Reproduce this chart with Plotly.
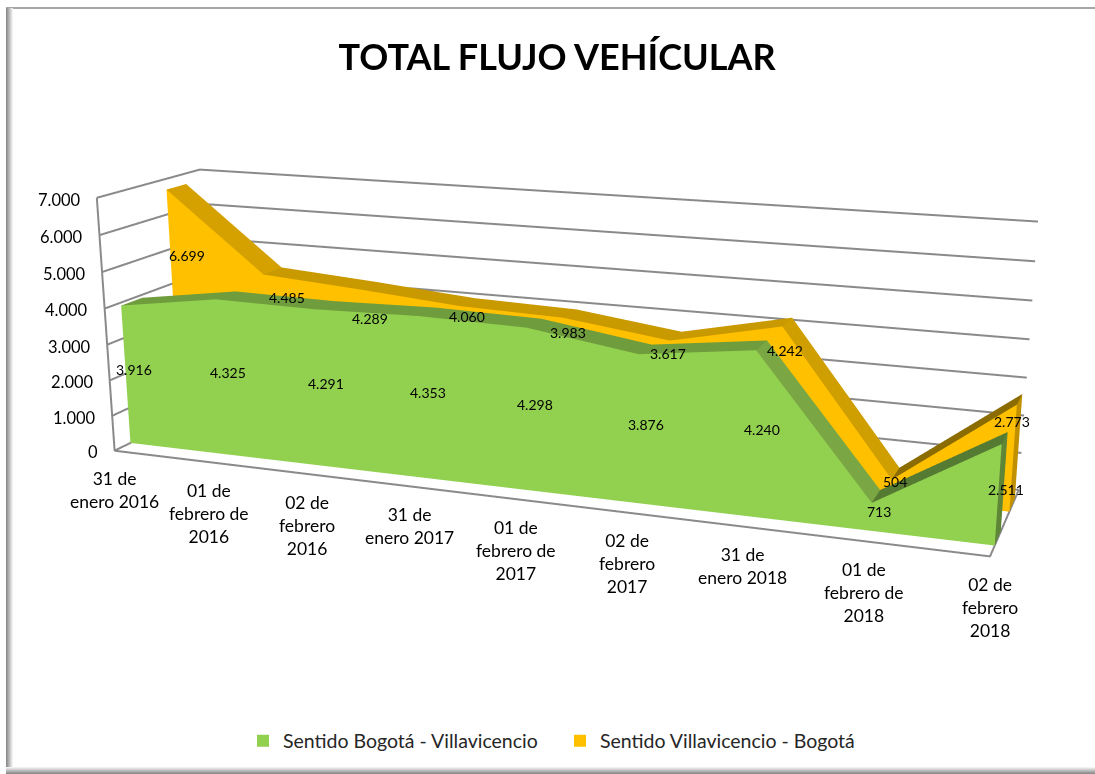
import numpy as np
import plotly.graph_objects as go

CATEGORIES = ["31 de<br>enero 2016", "01 de<br>febrero de<br>2016", "02 de<br>febrero<br>2016",
              "31 de<br>enero 2017", "01 de<br>febrero de<br>2017", "02 de<br>febrero<br>2017",
              "31 de<br>enero 2018", "01 de<br>febrero de<br>2018", "02 de<br>febrero<br>2018"]
BOGOTA_VILLA = [3916, 4325, 4291, 4353, 4298, 3876, 4240, 713, 2511]
VILLA_BOGOTA = [6699, 4485, 4289, 4060, 3983, 3617, 4242, 504, 2773]
Z_TICKS = [0, 1000, 2000, 3000, 4000, 5000, 6000, 7000]

# Where each back-series value label sits: share of the value's height, and sideways nudge in px
ORANGE_LABEL_HEIGHT = [.72, .85, .81, .93, .90, .90, .85, .88, .84]
ORANGE_LABEL_DX = [17, 23, 10, 8, 5, -2, 3, 3, -4]

# View fitted to the reference's oblique 3D projection
ASPECT = np.array([2., 0.2227, 0.6065])
EYE = np.array([0.4098, -1.9003, 0.2065])
CENTER = np.array([0.0446, 0.2698, -0.0787])
SHEAR = np.array([0.0625, 0.1332, -0.2286])
DOMAIN_X, DOMAIN_Y = [.03, 1], [.1, 1]

def U(x, d, z):
    return (float(x/8+SHEAR[0]*d), float(d), float(z/7000+SHEAR[1]*d+SHEAR[2]*x/8))

corners = np.array([U(x, d, z) for x in (0, 8) for d in (0, 1) for z in (0, 7000)])
lo = corners.min(0)-.02
hi = corners.max(0)+.02
mid = (lo+hi)/2
shift = ASPECT*(mid-.5)
asp = ASPECT*(hi-lo)
eye = EYE-shift
cen = CENTER-shift

fig = go.Figure()
GREEN_TOP = ["#6F9C3D"]*6+["#7AA644", "#557A31"]
ORANGE_TOP = ["#D4A100"]+["#C99900"]*5+["#CF9E00", "#8A6C00"]
GRAY = "#8A8A8A"

def add_area(name, vals, d0, d1, front, tops, cap):
    n = len(vals)
    xs, ys, zs, I, J, K, cols = [], [], [], [], [], [], []
    def quad(a, b, c, e, col):
        base = len(xs)
        for q in (a, b, c, e):
            w = U(*q)
            xs.append(w[0]); ys.append(w[1]); zs.append(w[2])
        I.extend([base, base]); J.extend([base+1, base+2]); K.extend([base+2, base+3]); cols.extend([col, col])
    for i in range(n-1):
        quad((i, d0, 0), (i+1, d0, 0), (i+1, d0, vals[i+1]), (i, d0, vals[i]), front)
        quad((i, d0, vals[i]), (i+1, d0, vals[i+1]), (i+1, d1, vals[i+1]), (i, d1, vals[i]), tops[i])
    quad((n-1, d0, 0), (n-1, d1, 0), (n-1, d1, vals[-1]), (n-1, d0, vals[-1]), cap)
    fig.add_trace(go.Mesh3d(x=xs, y=ys, z=zs, i=I, j=J, k=K, facecolor=cols, showlegend=False,
                            flatshading=True, hoverinfo="skip",
                            lighting=dict(ambient=1, diffuse=0, specular=0, fresnel=0, roughness=1)))
    fig.add_trace(go.Scatter3d(x=[None], y=[None], z=[None], mode="markers", name=name, showlegend=True,
                               marker=dict(symbol="square", size=12, color=front), hoverinfo="skip"))

add_area("Sentido Bogotá - Villavicencio", BOGOTA_VILLA, .15, .35, "#92D050", GREEN_TOP, "#5F8537")
add_area("Sentido Villavicencio - Bogotá", VILLA_BOGOTA, .65, .85, "#FFC000", ORANGE_TOP, "#C09000")

paths = [[(0, 0, 0), (8, 0, 0), (8, 1, 0)], [(0, 1, 0), (0, 0, 0), (0, 0, 7000)]] + \
        [[(0, 0, z), (0, 1, z), (8, 1, z)] for z in Z_TICKS]
fx, fy, fz = [], [], []
for p in paths:
    for q in p:
        w = U(*q)
        fx.append(w[0]); fy.append(w[1]); fz.append(w[2])
    fx.append(None); fy.append(None); fz.append(None)
fig.add_trace(go.Scatter3d(x=fx, y=fy, z=fz, mode="lines", line=dict(color=GRAY, width=4),
                           showlegend=False, hoverinfo="skip"))

def lab(v):
    return f"{v:,}".replace(",", ".")

ann = []
def note(q, text, **k):
    w = U(*q)
    ann.append(dict(x=w[0], y=w[1], z=w[2], text=text, showarrow=False, **k))

for z in Z_TICKS:
    note((0, 0, z), lab(z), xanchor="right", xshift=-14, yshift=-2, font=dict(size=16.5, color="#000"))
for i, c in enumerate(CATEGORIES):
    note((i, 0, 0), c, yanchor="top", yshift=-16, font=dict(size=17.5, color="#000"))
for i, v in enumerate(BOGOTA_VILLA):
    note((i, .15, v/2), lab(v), xshift=8, yshift=5, font=dict(size=14, color="#000"))
for i, v in enumerate(VILLA_BOGOTA):
    note((i, .65, v*ORANGE_LABEL_HEIGHT[i]), lab(v), xshift=ORANGE_LABEL_DX[i], font=dict(size=14, color="#000"))

off = dict(showgrid=False, showticklabels=False, showbackground=False, showline=False,
           zeroline=False, showspikes=False, ticks="", title="")
shapes = []
def rect(x0, y0, x1, y1, c):
    shapes.append(dict(type="rect", xref="paper", yref="paper", x0=x0/1095, x1=x1/1095,
                       y0=1-y0/774, y1=1-y1/774, fillcolor=c, line=dict(width=0), layer="above"))
rect(6, 7, 1095, 9, "#A6A6A6")
for i, c in enumerate(["#8C8C8C", "#9C9C9C", "#ADADAD", "#BEBEBE", "#D0D0D0", "#E2E2E2", "#F2F2F2"]):
    rect(6+i, 8, 7+i, 768, c)
for i, c in enumerate(["#F2F2F2", "#E2E2E2", "#D0D0D0", "#BEBEBE", "#ADADAD", "#9C9C9C", "#8C8C8C"]):
    rect(6, 767+i, 1095, 768+i, c)

fig.update_layout(
    width=1095, height=774, margin=dict(l=0, r=0, t=0, b=0), paper_bgcolor="#fff", shapes=shapes,
    font=dict(family="Lato"),
    title=dict(text="<b>TOTAL FLUJO VEHÍCULAR</b>", x=557/1095, y=1-57/774, xanchor="center",
               yanchor="middle", font=dict(size=36, color="#000")),
    legend=dict(orientation="h", x=243/1095, xanchor="left", y=1-741/774, yanchor="middle",
                font=dict(size=19.5, color="#262626"), itemsizing="constant",
                entrywidth=272, entrywidthmode="pixels"),
    scene=dict(domain=dict(x=DOMAIN_X, y=DOMAIN_Y), aspectmode="manual",
               aspectratio=dict(x=float(asp[0]), y=float(asp[1]), z=float(asp[2])),
               camera=dict(eye=dict(x=float(eye[0]), y=float(eye[1]), z=float(eye[2])),
                           center=dict(x=float(cen[0]), y=float(cen[1]), z=float(cen[2])),
                           up=dict(x=0, y=0, z=1), projection=dict(type="perspective")),
               xaxis=dict(range=[float(lo[0]), float(hi[0])], **off),
               yaxis=dict(range=[float(lo[1]), float(hi[1])], **off),
               zaxis=dict(range=[float(lo[2]), float(hi[2])], **off),
               annotations=ann))
fig.write_html("out.html", post_script="document.body.style.margin='0';", config=dict(displayModeBar=False))
